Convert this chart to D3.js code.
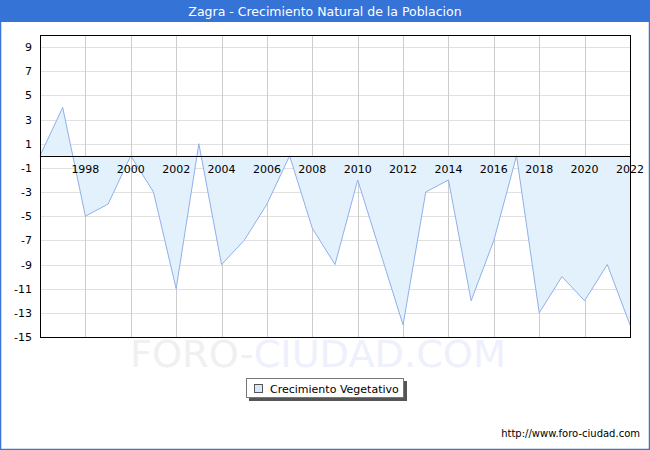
<!DOCTYPE html>
<html>
<head>
<meta charset="utf-8">
<title>Zagra - Crecimiento Natural de la Poblacion</title>
<script src="https://cdn.jsdelivr.net/npm/d3@7"></script>
<style>
body { margin: 0; background: #fff; }
svg { display: block; font-family: "DejaVu Sans", Verdana, sans-serif; }
</style>
</head>
<body>
<div id="chart"></div>
<script>
// datos
var years = d3.range(1996, 2023);
var values = [0, 4, -5, -4, 0, -3, -11, 1, -9, -7, -4, 0, -6, -9, -2, -8, -14, -3, -2, -12, -7, 0, -13, -10, -12, -9, -14];
var yTicks = [9, 7, 5, 3, 1, -1, -3, -5, -7, -9, -11, -13, -15];
var xTicks = d3.range(1998, 2023, 2);
var title = "Zagra - Crecimiento Natural de la Poblacion";
var seriesName = "Crecimiento Vegetativo";

var W = 650, H = 450;
var svg = d3.select("#chart").append("svg").attr("width", W).attr("height", H);

// marco azul y cabecera
svg.append("rect").attr("x", 0.5).attr("y", 0.5).attr("width", W - 1).attr("height", H - 1)
  .attr("fill", "#fff").attr("stroke", "#3a74d8").attr("stroke-width", 1.5);
svg.append("rect").attr("x", 0).attr("y", 0).attr("width", W).attr("height", 22).attr("fill", "#3573d7");
svg.append("text").attr("x", W / 2).attr("y", 16).attr("text-anchor", "middle")
  .attr("fill", "#fff").style("font-size", "12.5px").text(title);

var m = { left: 40, right: 630, top: 35, bottom: 337 };
var x = d3.scaleLinear().domain([1996, 2022]).range([m.left, m.right]);
var y = d3.scaleLinear().domain([-15, 10]).range([m.bottom, m.top]);

// rejilla
svg.append("g").selectAll("line").data(yTicks).join("line")
  .attr("x1", m.left).attr("x2", m.right)
  .attr("y1", d => Math.round(y(d)) + 0.5).attr("y2", d => Math.round(y(d)) + 0.5)
  .attr("stroke", "#e0e0e0");
svg.append("g").selectAll("line").data(xTicks).join("line")
  .attr("x1", d => Math.round(x(d)) + 0.5).attr("x2", d => Math.round(x(d)) + 0.5)
  .attr("y1", m.top).attr("y2", m.bottom)
  .attr("stroke", "#cccccc");

// marca de agua
var wm = svg.append("text").attr("x", 318).attr("y", 367).attr("text-anchor", "middle")
  .style("font-size", "38px").attr("textLength", 376).attr("lengthAdjust", "spacingAndGlyphs");
wm.append("tspan").attr("fill", "#f0f0f0").text("FORO-");
wm.append("tspan").attr("fill", "#eef0fc").text("CIUDAD.COM");

// area
var pts = years.map((d, i) => [d, values[i]]);
svg.append("path").datum(pts)
  .attr("fill", "#e3f1fd")
  .attr("d", d3.area().x(d => x(d[0])).y0(y(0)).y1(d => y(d[1])));
svg.append("path").datum(pts)
  .attr("fill", "none").attr("stroke", "#8fb0ea").attr("stroke-width", 1)
  .attr("d", d3.line().x(d => x(d[0])).y(d => y(d[1])));

// linea cero y borde
svg.append("line").attr("x1", m.left).attr("x2", m.right)
  .attr("y1", Math.round(y(0)) + 0.5).attr("y2", Math.round(y(0)) + 0.5)
  .attr("stroke", "#000");
svg.append("rect").attr("x", m.left + 0.5).attr("y", m.top + 0.5)
  .attr("width", m.right - m.left).attr("height", m.bottom - m.top)
  .attr("fill", "none").attr("stroke", "#000");

// etiquetas
svg.append("g").selectAll("text").data(yTicks).join("text")
  .attr("x", 32).attr("y", d => y(d) + 4).attr("text-anchor", "end")
  .style("font-size", "11px").attr("fill", "#000").text(d => d);
svg.append("g").selectAll("text").data(xTicks).join("text")
  .attr("x", d => x(d)).attr("y", y(0) + 17).attr("text-anchor", "middle")
  .style("font-size", "11px").attr("fill", "#000").text(d => d);

// leyenda
var lg = svg.append("g").attr("transform", "translate(246,378)");
lg.append("rect").attr("x", 3).attr("y", 3).attr("width", 158).attr("height", 20).attr("fill", "#555");
lg.append("rect").attr("x", 0.5).attr("y", 0.5).attr("width", 157).attr("height", 19)
  .attr("fill", "#fff").attr("stroke", "#777");
lg.append("rect").attr("x", 8.5).attr("y", 6.5).attr("width", 8).attr("height", 8)
  .attr("fill", "#d6e8fb").attr("stroke", "#555");
lg.append("text").attr("x", 24).attr("y", 14.5).style("font-size", "11px").text(seriesName);

svg.append("text").attr("x", 640).attr("y", 437).attr("text-anchor", "end")
  .style("font-size", "10px").text("http://www.foro-ciudad.com");
</script>
</body>
</html>
